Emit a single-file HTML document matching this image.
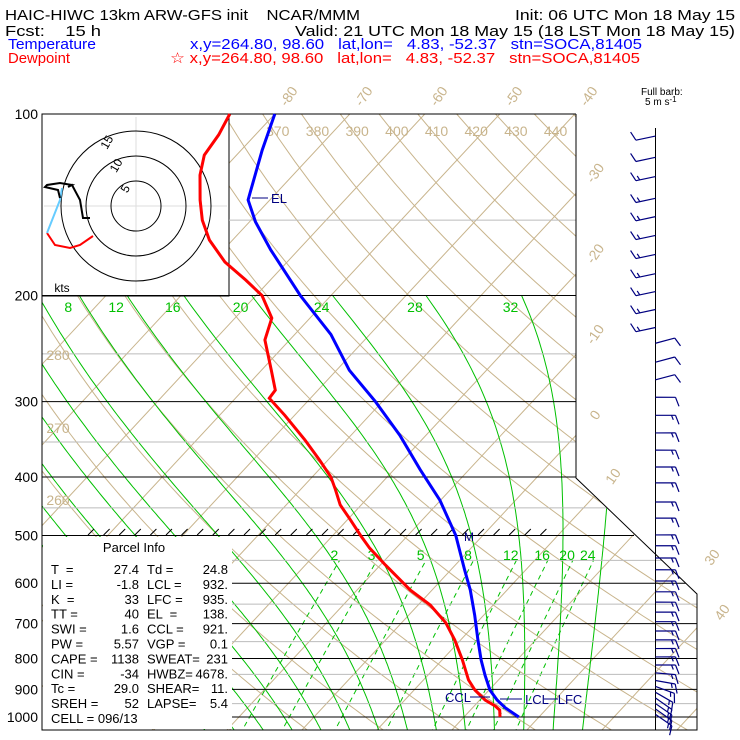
<!DOCTYPE html>
<html><head><meta charset="utf-8"><style>
html,body{margin:0;padding:0;background:#fff;}
svg{display:block;font-family:"Liberation Sans",sans-serif;}
svg text{white-space:pre;}
</style></head><body>
<svg id="chart" width="740" height="740" viewBox="0 0 740 740" xmlns="http://www.w3.org/2000/svg" xml:space="preserve">
<defs><clipPath id="plotclip"><polygon points="42,114 576,114 576,478 697,594 697,730 42,730"/></clipPath></defs>
<g font-size="15">
<text x="5" y="20" textLength="355" lengthAdjust="spacingAndGlyphs">HAIC-HIWC 13km ARW-GFS init    NCAR/MMM</text>
<text x="515" y="20" textLength="220" lengthAdjust="spacingAndGlyphs">Init: 06 UTC Mon 18 May 15</text>
<text x="5" y="36" textLength="96" lengthAdjust="spacingAndGlyphs">Fcst:    15 h</text>
<text x="295" y="36" textLength="440" lengthAdjust="spacingAndGlyphs">Valid: 21 UTC Mon 18 May 15 (18 LST Mon 18 May 15)</text>
<text x="8" y="49" fill="#0000ff" textLength="88" lengthAdjust="spacingAndGlyphs">Temperature</text>
<text x="190" y="49" fill="#0000ff" textLength="452" lengthAdjust="spacingAndGlyphs">x,y=264.80, 98.60   lat,lon=   4.83, -52.37   stn=SOCA,81405</text>
<text x="8" y="63" fill="#ff0000" textLength="62" lengthAdjust="spacingAndGlyphs">Dewpoint</text>
<text x="170" y="63" fill="#ff0000" textLength="470" lengthAdjust="spacingAndGlyphs">☆ x,y=264.80, 98.60   lat,lon=   4.83, -52.37   stn=SOCA,81405</text>
<text x="641" y="95" font-size="10">Full barb:</text>
<text x="645" y="105" font-size="10">5 m s<tspan dy="-3" font-size="8">-1</tspan></text>
</g>
<g id="grid" clip-path="url(#plotclip)"></g>
<g id="over"></g>
</svg>
<script>
// ---- data ----
const tempP = [100,114.8,134.7,138.9,151,168,200,232,266,300,341,389,437,500,571,616,678,745,804,852,902,937,966,1000];
const tempT = [-80.0,-77.2,-73.6,-72.9,-69.2,-63.7,-54.1,-45.2,-38.3,-30.9,-23.5,-16.5,-10.1,-3.6,1.9,5.1,8.8,12.3,15.2,17.6,20.1,22.3,24.4,27.3];
const dewP = [100,108.3,117,126.3,138.9,150,161.8,176,188.5,200,218,237,266,287,296,316,347,375,400,420,445,471,500,525,560,616,652,698,745,804,868,902,937,959,974,1000];
const dewT = [-86.0,-84.9,-84.3,-82.4,-79.3,-76.5,-73.1,-68.3,-63.3,-59.2,-55.1,-53.3,-48.7,-45.7,-45.5,-41.3,-35.6,-31.1,-27.5,-25.3,-22.8,-19.6,-16.3,-13.5,-9.3,-2.9,1.6,5.9,9.2,12.7,16.0,18.1,20.7,22.8,23.9,24.8];
const majorP = [100,200,300,400,500,600,700,800,900,1000];
const minorP = [150,250,350,450,550,650,750,850,950];
const isoT = [-130,-120,-110,-100,-90,-80,-70,-60,-50,-40,-30,-20,-10,0,10,20,30,40,50];
const thetaK = [250,260,270,280,290,300,310,320,330,340,350,360,370,380,390,400,410,420,430,440,450,460];
const thetaLabels = [370,380,390,400,410,420,430,440];
const moistW = [-16,-12,-8,-4,0,4,8,12,16,20,24,28,32,36];
const moistLabels = [8,12,16,20,24,28,32];
const mixW = [2,3,5,8,12,16,20,24];
const barbP = [108.8,118,127,138,148,159,171,184,197,211,226,240,258,276,295,316,338,361,385,409,440,468,499,520,545,570,595,620,645,670,695,720,745,770,795,820,845,870,890,910,930,950,970,990];
const barbDir = [258,258,258,258,258,258,258,258,258,258,258,75,75,75,90,90,90,90,90,90,90,90,90,90,90,90,90,90,90,90,90,90,90,90,90,90,95,100,110,120,125,125,125,125];
const barbSpd = [5,5,7.5,7.5,7.5,7.5,7.5,7.5,7.5,7.5,7.5,5,5,5,5,7.5,7.5,7.5,7.5,7.5,7.5,7.5,7.5,7.5,7.5,7.5,7.5,7.5,7.5,7.5,7.5,7.5,7.5,7.5,7.5,7.5,7.5,7.5,7.5,7.5,7.5,7.5,7.5,7.5];
const hodoRedU = [-8.6,-11.2,-13.2,-16.2,-17.8];
const hodoRedV = [-6.0,-7.8,-8.4,-7.8,-5.4];
const hodoCyanU = [-17.8,-15.2,-14.8];
const hodoCyanV = [-5.4,1.2,3.6];
const hodoBlackU = [-15.2,-15.6,-18.2,-17.8,-15.2,-12.8,-13.6,-12.8,-11.2,-10.6,-9.2];
const hodoBlackV = [1.6,3.2,3.8,4.2,4.6,4.2,3.8,4.2,1.2,-2.4,-2.4];
const pressLabels = [100,200,300,400,500,600,700,800,900,1000];

// ---- axes ----
const NS='http://www.w3.org/2000/svg';
const TAN='#c8b48c', GREEN='#00c000', NAVY='#000080';
function Y(p){return 717-261.9*Math.log(1000/p);}
function X(T,p){return 314+7.5*T+0.93*(717-Y(p));}
function el(tag,parent){const e=document.createElementNS(NS,tag);parent.appendChild(e);return e;}
function pts(a){return a.map(q=>q[0].toFixed(1)+','+q[1].toFixed(1)).join(' ');}
const grid=document.getElementById('grid'), over=document.getElementById('over');
function xr(y){return y<478?576:(y<594?576+(y-478)*1.043:697);}

for(const t of isoT){
  const l=el('line',grid);
  
  
  l.setAttribute('x1',X(t,1100));l.setAttribute('y1',Y(1100));
  l.setAttribute('x2',X(t,90));l.setAttribute('y2',Y(90));
  l.setAttribute('stroke',TAN);l.setAttribute('stroke-width','1');
}
for(const th of thetaK){
  const a=[];for(let p=1100;p>=90;p-=10){a.push([X(th*Math.pow(p/1000,0.286)-273.15,p),Y(p)]);}
  const l=el('polyline',grid);
  
  
  l.setAttribute('points',pts(a));l.setAttribute('fill','none');l.setAttribute('stroke',TAN);
}
function es(tc){return 6.112*Math.exp(17.67*tc/(tc+243.5));}
function moist(tw){
  const res=[];let T=tw+273.15;
  const step=(p,T)=>{const e=es(T-273.15);const rs=0.622*e/(p-e);return (287*T+2.5e6*rs)/(p*(1005+2.5e6*2.5e6*rs*0.622/(287*T*T)));};
  let Td=T;const low=[];for(let p=1000;p<1100;p+=5){Td+=step(p,Td)*5;low.push([p+5,Td]);}
  low.reverse().forEach(q=>res.push(q));res.push([1000,T]);
  for(let p=1000;p>200;p-=5){T-=step(p,T)*5;res.push([p-5,T]);}
  return res;
}
const moistCurves={};
for(const w of moistW){
  const c=moist(w);moistCurves[w]=c;
  const l=el('polyline',grid);
  
  
  l.setAttribute('points',pts(c.map(q=>[X(q[1]-273.15,q[0]),Y(q[0])])));
  l.setAttribute('fill','none');l.setAttribute('stroke',GREEN);
}
function tdFromW(w,p){const e=w*p/(622+w);const L=Math.log(e/6.112);return 243.5*L/(17.67-L);}
for(const w of mixW){
  const a=[];for(let p=1100;p>=545;p-=10){a.push([X(tdFromW(w,p),p),Y(p)]);}
  const l=el('polyline',grid);
  
  
  l.setAttribute('points',pts(a));l.setAttribute('fill','none');l.setAttribute('stroke',GREEN);l.setAttribute('stroke-dasharray','5,4');
}
const hb=el('rect',over);


hb.setAttribute('x',42);hb.setAttribute('y',114);hb.setAttribute('width',187);hb.setAttribute('height',182);hb.setAttribute('fill','#fff');hb.setAttribute('stroke','#000');
const pb=el('rect',over);


pb.setAttribute('x',43);pb.setAttribute('y',537);pb.setAttribute('width',189);pb.setAttribute('height',192);pb.setAttribute('fill','#fff');
for(const p of minorP){
  const y=Y(p);const l=el('line',over);
  
  
  l.setAttribute('x1',y<296?229:(y>536?232:42));l.setAttribute('x2',xr(y));l.setAttribute('y1',y);l.setAttribute('y2',y);l.setAttribute('stroke','#bbbbbb');
}
for(const p of majorP){
  const y=Y(p);const l=el('line',over);
  
  
  l.setAttribute('x1',(y>536.5)?232:42);l.setAttribute('x2',p==500?634:xr(y));l.setAttribute('y1',y);l.setAttribute('y2',y);l.setAttribute('stroke','#000');
}
for(const p of pressLabels){
  const t=el('text',over);
  
  
  t.setAttribute('x',38);t.setAttribute('y',Y(p)+5);t.setAttribute('text-anchor','end');t.setAttribute('font-size','14');t.textContent=p;
}
const fr=el('polyline',over);


fr.setAttribute('points','576,114 42,114 42,730 697,730 697,594 576,478 576,114');fr.setAttribute('fill','none');fr.setAttribute('stroke','#000');
for(let x=88;x<=556;x+=15.6){const s=el('line',over);
  
  
  s.setAttribute('x1',x);s.setAttribute('y1',535);s.setAttribute('x2',x+6);s.setAttribute('y2',529);s.setAttribute('stroke','#000');}
function lab(txt,x,y,col,rot,name,size){const t=el('text',over);
  
  
  t.setAttribute('x',x);t.setAttribute('y',y);t.setAttribute('fill',col);t.setAttribute('font-size',size||14);t.setAttribute('text-anchor','middle');
  if(rot)t.setAttribute('transform','rotate('+rot+' '+x+' '+y+')');t.textContent=txt;}
for(const t of isoT){
  if(t>=-80&&t<=-40){const x=X(t,1000)+0.93*(717-95);lab(String(t),x,99,TAN,-55,'isotherm-label');}
  else if(t>=-30&&t<=0){const y=717-(597-314-7.5*t)/0.93;lab(String(t),599,y+5,TAN,-55,'isotherm-label');}
}
lab('10',617,479,TAN,-55,'isotherm-label');lab('30',716,560,TAN,-55,'isotherm-label');lab('40',726,615,TAN,-55,'isotherm-label');
for(const th of thetaLabels){const p=108;lab(String(th),X(th*Math.pow(p/1000,0.286)-273.15,p)+2,136,TAN,0,'theta-label');}
lab('280',58,360,TAN,0,'theta-label');lab('270',58,433,TAN,0,'theta-label');lab('260',58,505,TAN,0,'theta-label');
for(const w of moistLabels){const c=moistCurves[w];const q=c[c.length-1];lab(String(w),X(q[1]-273.15,q[0])-11,312,GREEN,0,'moist-adiabat-label');}
for(const w of mixW){lab(String(w),X(tdFromW(w,540),540)-8,560,GREEN,0,'mixing-ratio-label');}
const hc=[136,206];
[[hc[0],117,hc[0],294],[44,hc[1],227,hc[1]]].forEach(c=>{const l=el('line',over);
  
  
  l.setAttribute('x1',c[0]);l.setAttribute('y1',c[1]);l.setAttribute('x2',c[2]);l.setAttribute('y2',c[3]);l.setAttribute('stroke','#ddd');});
[5,10,15].forEach(r=>{const c=el('circle',over);
  
  
  c.setAttribute('cx',hc[0]);c.setAttribute('cy',hc[1]);c.setAttribute('r',r*5);c.setAttribute('fill','none');c.setAttribute('stroke','#000');
  const a=-Math.PI*0.62;lab(String(r),hc[0]+r*5*Math.cos(a)+2,hc[1]+r*5*Math.sin(a)+8,'#000',-60,'hodograph-ring-label',12);});
lab('kts',62,292,'#000',0,'hodograph-units',12);
function hodo(U,V,col,name){const l=el('polyline',over);
  
  
  l.setAttribute('points',pts(U.map((u,i)=>[hc[0]+u*5,hc[1]-V[i]*5])));l.setAttribute('fill','none');l.setAttribute('stroke',col);l.setAttribute('stroke-width','2');}
hodo(hodoRedU,hodoRedV,'#ff0000','hodograph-low-level');
hodo(hodoCyanU,hodoCyanV,'#66ccff','hodograph-mid-level');
hodo(hodoBlackU,hodoBlackV,'#000','hodograph-upper-level');
const pl=[['T  =','27.4','Td =','24.8'],['LI =','-1.8','LCL =','932.'],['K  =','33','LFC =','935.'],['TT =','40','EL  =','138.'],['SWI =','1.6','CCL =','921.'],['PW =','5.57','VGP =','0.1'],['CAPE =','1138','SWEAT=','231'],['CIN =','-34','HWBZ=','4678.'],['Tc =','29.0','SHEAR=','11.'],['SREH =','52','LAPSE=','5.4']];
lab('Parcel Info',134,552,'#000',0,'parcel-info-title',13);
pl.forEach((r,i)=>{const y=574+i*14.9;
  const a=el('text',over);a.setAttribute('x',51);a.setAttribute('y',y);a.setAttribute('font-size','13');a.textContent=r[0];
  const b=el('text',over);b.setAttribute('x',139);b.setAttribute('y',y);b.setAttribute('font-size','13');b.setAttribute('text-anchor','end');b.textContent=r[1];
  const c=el('text',over);c.setAttribute('x',147);c.setAttribute('y',y);c.setAttribute('font-size','13');c.textContent=r[2];
  const d=el('text',over);d.setAttribute('x',228);d.setAttribute('y',y);d.setAttribute('font-size','13');d.setAttribute('text-anchor','end');d.textContent=r[3];
});
const cl=el('text',over);cl.setAttribute('x',51);cl.setAttribute('y',723);cl.setAttribute('font-size','13');cl.textContent='CELL = 096/13';
const st=el('line',over);


st.setAttribute('x1',655.5);st.setAttribute('y1',128);st.setAttribute('x2',655.5);st.setAttribute('y2',730);st.setAttribute('stroke','#000');
barbP.forEach((p,i)=>{
  const d=barbDir[i]*Math.PI/180,vx=Math.sin(d),vy=-Math.cos(d);const y0=Y(p),x0=655.5,L=20;
  const ex=x0+vx*L,ey=y0+vy*L;let path='M'+x0+','+y0+'L'+ex.toFixed(1)+','+ey.toFixed(1);
  const fx=-vy*0.9+vx*0.35,fy=vx*0.9+vy*0.35;let s=barbSpd[i],pos=L;
  while(s>=5){const bx=x0+vx*pos,by=y0+vy*pos;path+='M'+bx.toFixed(1)+','+by.toFixed(1)+'l'+(fx*10).toFixed(1)+','+(fy*10).toFixed(1);s-=5;pos-=4;}
  if(s>=2.5){const bx=x0+vx*pos,by=y0+vy*pos;path+='M'+bx.toFixed(1)+','+by.toFixed(1)+'l'+(fx*5).toFixed(1)+','+(fy*5).toFixed(1);}
  const b=el('path',over);
  
  
  b.setAttribute('d',path);b.setAttribute('fill','none');b.setAttribute('stroke',NAVY);b.setAttribute('stroke-width','1.2');
});
function prof(P,T,col,name){const l=el('polyline',over);
  
  
  l.setAttribute('points',pts(P.map((p,i)=>[X(T[i],p),Y(p)])));l.setAttribute('fill','none');l.setAttribute('stroke',col);l.setAttribute('stroke-width','3');}
prof(dewP,dewT,'#ff0000','dewpoint-line');
prof(tempP,tempT,'#0000ff','temperature-line');
function mk(x1,x2,y,name){const l=el('line',over);
  
  
  l.setAttribute('x1',x1);l.setAttribute('x2',x2);l.setAttribute('y1',y);l.setAttribute('y2',y);l.setAttribute('stroke',NAVY);}
mk(252,268,198,'el-marker');lab('EL',279,203,NAVY,0,'el-label',13);
mk(470,490,697,'ccl-marker');lab('CCL',458,702,NAVY,0,'ccl-label',13);
mk(500,522,699,'lcl-marker');lab('LCL',537,704,NAVY,0,'lcl-label',13);
mk(544,558,699,'lfc-marker');lab('LFC',570,704,NAVY,0,'lfc-label',13);
lab('M',469,541,NAVY,0,'freezing-level-marker',12);
</script>
</body></html>
